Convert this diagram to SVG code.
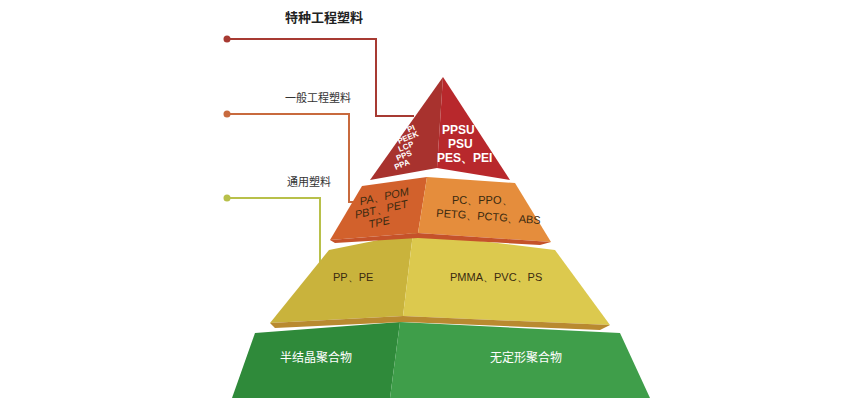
<svg xmlns="http://www.w3.org/2000/svg" width="865" height="407" viewBox="0 0 865 407">
<style>
.lbl{font-family:"Noto Sans CJK SC","Noto Sans",sans-serif;font-size:11px;fill:#333}
.w{font-family:"Liberation Sans",Arial,sans-serif;fill:#fff;font-weight:bold}
.k{font-family:"Liberation Sans",Arial,sans-serif;fill:#3a2a10;font-size:11px}
.cw{font-family:"Noto Sans CJK SC","Noto Sans",sans-serif;fill:#fff;font-size:12px}
</style>
<rect width="865" height="407" fill="#fff"/>
<g id="connectors" fill="none" stroke-width="2">
<polyline points="227,39 376,39 376,116 414,116" stroke="#a73a32"/>
<polyline points="227,114 349,114 349,202 360,202" stroke="#c86a3e"/>
<polyline points="227,198 320,198 320,278 330,278" stroke="#b8c04a"/>
<circle cx="227" cy="39" r="3.5" fill="#a73a32" stroke="none"/>
<circle cx="227" cy="114" r="3.5" fill="#c86a3e" stroke="none"/>
<circle cx="227" cy="198" r="3.5" fill="#b8c04a" stroke="none"/>
</g>
<g id="labels">
<text x="285" y="22" class="lbl" style="font-weight:bold;font-size:13px;fill:#222">特种工程塑料</text>
<text x="285" y="102" class="lbl">一般工程塑料</text>
<text x="287" y="186" class="lbl">通用塑料</text>
</g>
<g id="tier4">
<polygon points="255,333 400,322 390,398 232,398" fill="#2f8a3a"/>
<polygon points="400,322 620,333 650,398 390,398" fill="#3f9e4a"/>
<text x="280" y="362" class="cw">半结晶聚合物</text>
<text x="490" y="362" class="cw">无定形聚合物</text>
</g>
<g id="tier3">
<polygon points="329,250 413,233 403,316 270,323" fill="#c9b33c"/>
<polygon points="413,233 555,250 610,325 403,316" fill="#dcc94e"/>
<polygon points="270,323 403,316 610,325 600,330 403,322 275,328" fill="#b98a30"/>
<text x="333" y="281" class="k">PP、PE</text>
<text x="450" y="281" class="k">PMMA、PVC、PS</text>
</g>
<g id="tier2">
<polygon points="362,186 427,177 418,233 330,240" fill="#d2612c"/>
<polygon points="427,177 515,183 551,242 418,233" fill="#e58d3c"/>
<polygon points="330,240 418,233 551,242 540,245 418,238 335,243" fill="#c5522a"/>
<g class="k" font-style="italic" text-anchor="middle">
<text x="385" y="200" transform="rotate(-12 385 200)">PA、POM</text>
<text x="382" y="213" transform="rotate(-12 382 213)">PBT、PET</text>
<text x="380" y="226" transform="rotate(-12 380 226)">TPE</text>
</g>
<text x="452" y="204" class="k">PC、PPO、</text>
<text x="436" y="219" class="k" transform="rotate(4 470 219)">PETG、PCTG、ABS</text>
</g>
<g id="tier1">
<polygon points="443,77 437,168 370,180" fill="#a8322e"/>
<polygon points="443,77 510,180 437,168" fill="#b8282c"/>
<g class="w" font-size="8" text-anchor="middle">
<text x="412" y="131" transform="rotate(-22 412 131)">PI</text>
<text x="409" y="140" transform="rotate(-22 409 140)">PEEK</text>
<text x="407" y="149" transform="rotate(-22 407 149)">LCP</text>
<text x="405" y="158" transform="rotate(-22 405 158)">PPS</text>
<text x="403" y="167" transform="rotate(-22 403 167)">PPA</text>
</g>
<text class="w" font-size="12"><tspan x="442" y="134">PPSU</tspan><tspan x="448" y="148">PSU</tspan><tspan x="437" y="162">PES、PEI</tspan></text>
</g>
</svg>
